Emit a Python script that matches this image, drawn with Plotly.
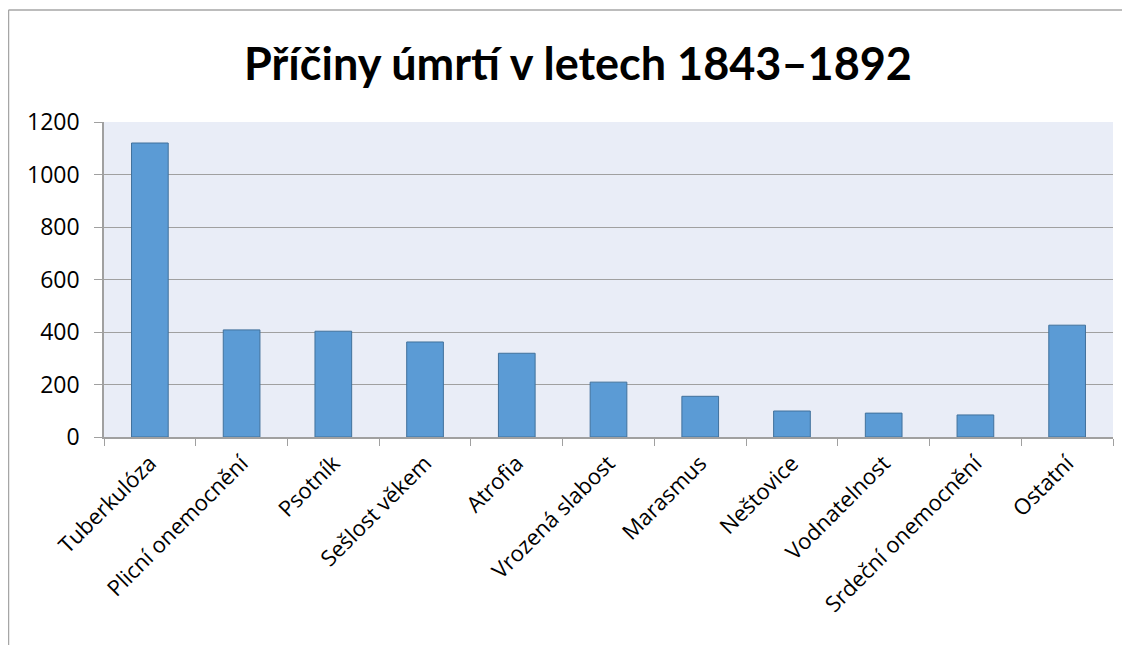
import plotly.graph_objects as go

# data
categories = ['Tuberkulóza', 'Plicní onemocnění', 'Psotník', 'Sešlost věkem', 'Atrofia',
              'Vrozená slabost', 'Marasmus', 'Neštovice', 'Vodnatelnost',
              'Srdeční onemocnění', 'Ostatní']
deaths = [1120, 408, 403, 362, 319, 209, 155, 99, 91, 84, 426]
y_ticks = [0, 200, 400, 600, 800, 1000, 1200]

# page body has an 8px margin, so the figure is shifted by that much
OFF = 8
W, H = 1130 - OFF, 645 - OFF
L, R, T = 104 - OFF, 17, 122 - OFF
ph = 315
B = H - T - ph
pw = W - L - R


def px_x(v):
    return (v - OFF - L) / pw


def px_y(v):
    return (H - B - (v - OFF)) / ph


fig = go.Figure()
fig.add_trace(go.Bar(
    x=categories,
    y=deaths,
    marker=dict(color='#5B9BD5', line=dict(color='#41719C', width=1)),
    hoverinfo='x+y',
))

# outer chart frame (only top and left edges are visible)
fig.add_shape(type='line', xref='paper', yref='paper',
              x0=px_x(8.5), x1=px_x(1140), y0=px_y(10), y1=px_y(10),
              line=dict(color='#A6A6A6', width=1.5))
fig.add_shape(type='line', xref='paper', yref='paper',
              x0=px_x(8.5), x1=px_x(8.5), y0=px_y(10), y1=px_y(660),
              line=dict(color='#A6A6A6', width=1.5))

fig.update_layout(
    width=W, height=H,
    margin=dict(l=L, r=R, t=T, b=B),
    paper_bgcolor='white',
    plot_bgcolor='#E9EDF7',
    bargap=0.6,
    showlegend=False,
    title=dict(
        text='<b>Příčiny úmrtí v letech 1843–1892</b>',
        x=px_x(578), xanchor='center', xref='paper',
        y=1 - (64 - OFF) / H, yanchor='middle',
        font=dict(family='Lato, Open Sans, sans-serif', size=45, color='black'),
    ),
    font=dict(family='Open Sans, Noto Sans, sans-serif', color='black'),
    xaxis=dict(
        type='category',
        tickangle=-45,
        tickson='boundaries',
        ticks='outside', ticklen=7, tickcolor='#A0A0A0',
        showline=True, linecolor='#A0A0A0', linewidth=1.5,
        showgrid=False,
        ticklabelstandoff=3,
        tickfont=dict(size=22, color='black'),
    ),
    yaxis=dict(
        range=[0, 1200],
        tickvals=y_ticks,
        ticks='outside', ticklen=8, tickcolor='#A0A0A0',
        showline=True, linecolor='#A0A0A0', linewidth=1.5,
        gridcolor='#A0A0A0', gridwidth=1,
        zeroline=False,
        ticklabelstandoff=10,
        tickfont=dict(size=23, color='black'),
    ),
)

fig.write_html('out.html')
